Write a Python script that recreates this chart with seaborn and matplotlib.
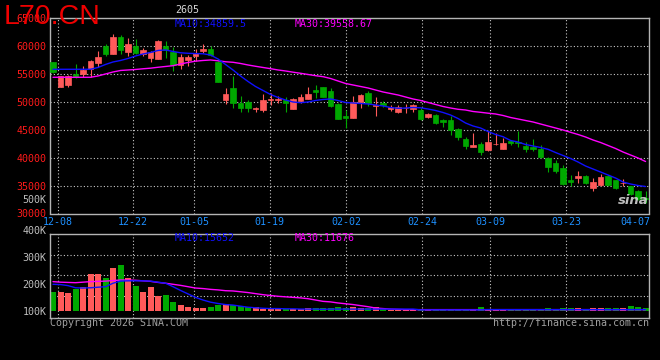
import matplotlib
matplotlib.use("Agg")
import matplotlib.pyplot as plt
import seaborn as sns
import pandas as pd

# ==========================================
# 1. DATA
# ==========================================
opens = [57032, 52669, 52920, 54940, 54940, 55834, 56907, 59946, 58516, 61556,
         58874, 59946, 58516, 57801, 57622, 59946, 58927, 56549, 57443, 58158,
         59052, 59410, 57086, 50291, 52437, 49755, 49934, 48650, 48503, 50238,
         50291, 50291, 48682, 50112, 50470, 52079, 52616, 51900, 49576, 47431,
         47073, 49934, 51543, 49218, 49755, 48682, 48146, 48771, 48682, 48503,
         47252, 47609, 46715, 46715, 45106, 43318, 41888, 42424, 41352, 42370,
         41530, 42961, 42782, 42067, 41888, 41530, 39921, 39027, 38133, 35987,
         36345, 36703, 34557, 35093, 36703, 35987, 35397, 34914, 34020, 32700]
highs = [57139, 54650, 54707, 56728, 56370, 57390, 59052, 60304, 62092, 61913,
         61377, 61198, 59589, 59052, 61019, 60840, 59821, 58516, 58337, 59410,
         60304, 59946, 57264, 52437, 54582, 51006, 50291, 49093, 51364, 51543,
         51006, 50827, 50649, 51364, 52616, 52973, 52700, 52437, 49665, 48503,
         51006, 51275, 51900, 50827, 50112, 49397, 49397, 49576, 49487, 48861,
         47967, 47788, 46805, 47431, 45196, 43676, 44391, 42782, 44749, 44391,
         43497, 43139, 44749, 42782, 43318, 42246, 40011, 39564, 38670, 36881,
         37597, 36881, 36345, 37060, 36881, 36077, 36166, 34914, 34200, 34000]
lows = [55172, 52562, 52562, 54171, 54457, 54457, 56192, 58158, 58427, 58516,
        58158, 58516, 58158, 57086, 57533, 57801, 55477, 55834, 56370, 57264,
        58695, 58158, 53422, 49576, 48861, 48146, 48146, 48200, 48146, 49397,
        49755, 48146, 48593, 49755, 50381, 50649, 50738, 49040, 46805, 45285,
        46984, 48861, 49218, 47431, 49040, 48325, 47967, 47967, 48146, 46715,
        47073, 46000, 45464, 44033, 43139, 41530, 41799, 40458, 41173, 42156,
        41441, 42246, 41888, 40994, 41173, 39921, 37418, 37239, 35093, 34914,
        35451, 35362, 34020, 34914, 35004, 34378, 34914, 33300, 32400, 31800]
closes = [55351, 54582, 54582, 54457, 55655, 57264, 57980, 58516, 61556, 59231,
          60304, 58695, 59231, 58874, 60840, 59231, 56549, 57980, 57980, 58695,
          59410, 58337, 53511, 51364, 49755, 48861, 48861, 48800, 50291, 50470,
          50470, 49755, 50470, 50827, 51364, 51722, 50827, 49218, 46894, 47073,
          49934, 51185, 49755, 49397, 49397, 49040, 49040, 48861, 49397, 46894,
          47788, 46179, 46358, 44927, 43676, 42120, 42246, 40994, 42782, 42424,
          42603, 42603, 42514, 41530, 41530, 40100, 38312, 37597, 35272, 35630,
          36703, 35451, 35630, 36524, 35093, 34557, 35451, 33400, 32600, 32550]
ma10 = [55780, 55780, 55780, 55780, 55780, 55780, 56102, 56639, 57086, 57354,
        57711, 58158, 58516, 58784, 59142, 59231, 58963, 58730, 58641, 58587,
        58552, 58337, 57622, 56639, 55655, 54582, 53599, 52705, 51990, 51275,
        50738, 50291, 49934, 49808, 49934, 50202, 50381, 50470, 50202, 49845,
        49755, 49665, 49576, 49397, 49218, 48950, 48807, 48861, 48950, 48896,
        48682, 48414, 48056, 47609, 46984, 46179, 45643, 45285, 44659, 44123,
        43729, 43050, 42782, 42335, 42067, 41799, 41477, 40904, 40368, 39831,
        39205, 38490, 37954, 37418, 36881, 36345, 35630, 35272, 35004, 34825]
ma30 = [54350, 54350, 54350, 54350, 54350, 54350, 54582, 54940, 55298, 55566,
        55655, 55745, 55870, 55977, 56138, 56281, 56424, 56728, 56996, 57229,
        57354, 57443, 57300, 57121, 57032, 56817, 56549, 56317, 56102, 55888,
        55655, 55477, 55262, 55065, 54851, 54636, 54457, 54135, 53688, 53241,
        52973, 52705, 52437, 52079, 51722, 51453, 51185, 50827, 50470, 50202,
        49845, 49487, 49129, 48861, 48629, 48503, 48235, 48092, 47931, 47788,
        47520, 47162, 46894, 46626, 46358, 46000, 45642, 45285, 44927, 44516,
        44123, 43676, 43139, 42693, 42157, 41620, 40994, 40458, 39921, 39295]

# volume, in K, on the scale printed at the left of the lower panel
volume = [171, 171, 167, 181, 190, 239, 239, 224, 261, 271,
          224, 193, 171, 189, 156, 159, 134, 121, 115, 111,
          111, 114, 121, 125, 121, 117, 112, 112, 108, 108,
          106, 106, 106, 106, 110, 109, 109, 109, 113, 109,
          113, 109, 110, 113, 105, 103, 104, 103, 104, 103,
          103, 103, 108, 108, 108, 108, 108, 114, 104, 104,
          103, 108, 104, 103, 103, 103, 109, 106, 109, 109,
          109, 104, 109, 109, 109, 109, 109, 118, 114, 109]
vol_ma10 = [199, 198, 194, 186, 185, 186, 188, 190, 203, 211,
            212, 212, 212, 211, 207, 203, 190, 176, 163, 150,
            140, 132, 127, 123, 121, 117, 113, 111, 109, 108,
            108, 107, 107, 106, 106, 106, 105, 106, 106, 106,
            106, 106, 106, 106, 106, 106, 106, 106, 106, 103,
            103, 103, 103, 103, 103, 103, 103, 103, 104, 104,
            104, 104, 104, 104, 104, 104, 104, 104, 104, 104,
            104, 104, 104, 104, 104, 104, 104, 104, 104, 104]
vol_ma30 = [209, 207, 206, 205, 207, 209, 210, 211, 213, 215,
            215, 214, 212, 210, 206, 203, 199, 195, 190, 185,
            183, 180, 178, 175, 174, 171, 168, 164, 160, 157,
            154, 152, 150, 148, 145, 140, 135, 133, 129, 126,
            123, 119, 115, 110, 108, 106, 105, 104, 104, 104,
            104, 104, 104, 104, 104, 104, 104, 104, 104, 104,
            104, 104, 104, 104, 104, 104, 104, 104, 104, 104,
            104, 104, 104, 104, 104, 104, 104, 104, 104, 104]
vol_base = 100

tick_pos = [0.6, 10.7, 18.8, 28.9, 39.1, 49.2, 58.3, 68.4, 77.6]
tick_labels = ["12-08", "12-22", "01-05", "01-19", "02-02",
               "02-24", "03-09", "03-23", "04-07"]
price_ticks = [30000, 35000, 40000, 45000, 50000, 55000, 60000, 65000]
vol_ticks = [100, 200, 300]

# ==========================================
# 2. STYLE
# ==========================================
UP = "#ff5a5a"
DOWN = "#00a800"
GRID = "#c8c8c8"
BORDER = "#b4b4b4"
BLUE = "#1010ff"
MAGENTA = "#ff00ff"

sns.set_theme(style="dark", rc={
    "axes.facecolor": "black",
    "figure.facecolor": "black",
    "savefig.facecolor": "black",
    "axes.edgecolor": BORDER,
})
plt.rcParams["font.family"] = ["DejaVu Sans Mono"]

df = pd.DataFrame({"open": opens, "high": highs, "low": lows, "close": closes,
                   "ma10": ma10, "ma30": ma30, "vol": volume,
                   "vma10": vol_ma10, "vma30": vol_ma30})
df["idx"] = range(len(df))
colors = [UP if c >= o else DOWN for o, c in zip(df["open"], df["close"])]

fig = plt.figure(figsize=(6.6, 3.6), dpi=100)
ax = fig.add_axes([50 / 660, 1 - 213.5 / 360, 599.3 / 660, 195.8 / 360])
axv = fig.add_axes([50 / 660, 1 - 318 / 360, 599.3 / 660, 83.7 / 360])

# ==========================================
# 3. CANDLES + MOVING AVERAGES
# ==========================================
grid_kw = dict(color=GRID, lw=0.8, ls=(0, (1, 2)), zorder=0)
for p in price_ticks[1:-1]:
    ax.axhline(p, **grid_kw)
for p in tick_pos[:-1]:
    ax.axvline(p, **grid_kw)
    axv.axvline(p, **grid_kw)

ax.vlines(df["idx"], df["low"], df["high"], colors=colors, lw=0.8, zorder=2)
body_low = df[["open", "close"]].min(axis=1)
body_h = (df["close"] - df["open"]).abs()
ax.bar(df["idx"], body_h, bottom=body_low, width=0.72, color=colors,
       edgecolor=colors, linewidth=0.5, zorder=3)

sns.lineplot(data=df, x="idx", y="ma30", color=MAGENTA, lw=1.0, ax=ax, zorder=4)
sns.lineplot(data=df, x="idx", y="ma10", color=BLUE, lw=1.0, ax=ax, zorder=5)

ax.set_xlim(-0.4, 79.5)
ax.set_ylim(30000, 65000)
ax.set_yticks(price_ticks)
ax.set_yticklabels([str(p) for p in price_ticks], color="#ff1a1a", fontsize=7.2)
ax.set_xticks(tick_pos)
ax.set_xticklabels(tick_labels, color="#1e90ff", fontsize=7.2)
ax.tick_params(length=0, pad=2.5)
ax.set_xlabel("")
ax.set_ylabel("")
ax.grid(False)

# ==========================================
# 4. VOLUME PANEL
# ==========================================
for f in [0.263, 0.508, 0.753]:
    axv.plot([0, 1], [f, f], transform=axv.transAxes, **grid_kw)
axv.bar(df["idx"], df["vol"] - vol_base, bottom=vol_base, width=0.8,
        color=colors, linewidth=0, zorder=2)
sns.lineplot(data=df, x="idx", y="vma30", color=MAGENTA, lw=1.0, ax=axv, zorder=4)
sns.lineplot(data=df, x="idx", y="vma10", color=BLUE, lw=1.0, ax=axv, zorder=5)
axv.set_xlim(-0.4, 79.5)
axv.set_ylim(72.6, 386.5)
axv.set_yticks(vol_ticks)
axv.set_yticklabels([f"{v}K" for v in vol_ticks], color="#bebebe", fontsize=7.2)
axv.set_xticks([])
axv.tick_params(length=0, pad=2.5)
axv.set_xlabel("")
axv.set_ylabel("")
axv.grid(False)

for a in (ax, axv):
    for s in a.spines.values():
        s.set_color(BORDER)
        s.set_linewidth(1.0)

# ==========================================
# 5. TEXTS
# ==========================================
def px(x, y):
    return x / 660, 1 - y / 360

mono = dict(fontsize=7.2, va="center")
fig.text(*px(175, 23.7), "MA10:34859.5", color=BLUE, **mono)
fig.text(*px(295, 23.7), "MA30:39558.67", color=MAGENTA, **mono)
fig.text(*px(175, 238.3), "MA10:15652", color=BLUE, **mono)
fig.text(*px(295, 238.3), "MA30:11676", color=MAGENTA, **mono)
fig.text(*px(175, 10), "2605", color="#d8d8d8", **mono)
fig.text(*px(46.5, 231), "400K", color="#bebebe", ha="right", **mono)
fig.text(*px(46.5, 200), "500K", color="#bebebe", ha="right", **mono)
fig.text(*px(50, 323.5), "Copyright 2026 SINA.COM", color="#a0a0a0", **mono)
fig.text(*px(649.3, 323.5), "http://finance.sina.com.cn", color="#a0a0a0",
         ha="right", **mono)
fig.text(*px(4, 17), "L70.CN", color="#ee0000", fontsize=20.5,
         family="Liberation Sans", va="center")
# sina watermark in the lower right corner of the price panel
fig.text(*px(633, 201), "sina", color="#d4d4d4", fontsize=9.5, alpha=0.9,
         family="DejaVu Sans", style="italic", weight="bold",
         ha="center", va="center", zorder=10)

fig.savefig("out.png", dpi=100, facecolor="black")
